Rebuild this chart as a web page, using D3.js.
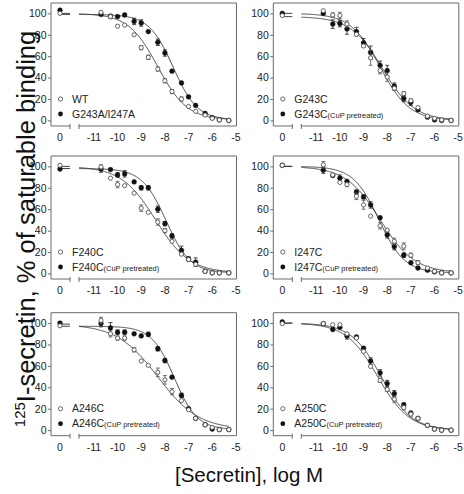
<!DOCTYPE html>
<html><head><meta charset="utf-8">
<script src="https://cdn.jsdelivr.net/npm/d3@7"></script>
<style>body{margin:0;background:#fff;} svg{display:block;font-family:"Liberation Sans",Arial,sans-serif;}</style>
</head><body>
<script>
// ---- data ----
const logConc = [-10.7,-10.3,-10,-9.7,-9.3,-9,-8.7,-8.3,-8,-7.7,-7.3,-7,-6.7,-6.3,-6,-5.7,-5.3];
const xTickLabels = ["-11","-10","-9","-8","-7","-6","-5"];
const xTickValues = [-11,-10,-9,-8,-7,-6,-5];
const yTickValues = [0,20,40,60,80,100];
const panelOpenNames = ["WT","G243C","F240C","I247C","A246C","A250C"];
const panelFilledNames = ["G243A/I247A","G243C","F240C","I247C","A246C","A250C"];
const panelFilledSuffix = ["","(CuP pretreated)","(CuP pretreated)","(CuP pretreated)","(CuP pretreated)","(CuP pretreated)"];
// binding at zero secretin (open, filled)
const zeroOpen = [100, 98, 101, 101, 97.5, 99.5];
const zeroFilled = [103, 100, 97.5, 101, 100, 101];
const openValues = [
  [101,97,88,89,80,68,59,48,37,27,20,13,8.5,5,2,0.5,0],
  [102.5,98.5,98,90,80.5,69.5,58.5,46.5,40.5,30,25,18.5,12,4,2,0.5,0],
  [99.5,89,83,82,75,61,57,48,40,30,18,13,8.5,2,0.5,0.5,0.5],
  [101.5,92,85,83,72,64,53.5,44.5,40.5,30,25.5,17,10,5,2,0.5,0.5],
  [102.5,90,86,86,75,64.5,60.5,54,47,36,27.5,19,11,5,2.5,0.5,0.5],
  [99.5,98.5,98.5,90,86,73.5,59.5,46.5,38,29,21,15,11,4.5,1,0,0]
];
const filledValues = [
  [99,97.5,97,98.5,92.5,91,83,73,63,46,35,22,14,6.5,2.5,0.5,0],
  [100,90,90.5,85.5,83,72.5,63.5,51.5,46.5,32,20.5,17,10,3,0.5,0,0],
  [97.5,97,92,93,85.5,80,80,60,46.5,35,21.5,13.5,10.5,2,0.5,0.5,0.5],
  [96.5,91.5,89,86,76,71.5,64,52,36,25,17,10,5,3,1.5,0.5,0.5],
  [99.5,95.5,91.5,91.5,90,88,89.5,76,65,49.5,32.5,20,11,5,1,0.5,0.5],
  [99.5,94,96,88,87,76.5,64.5,53.5,43.5,34,23.5,16,11,4.5,1,0,0]
];
const openErrors = [
  [0,2,0,0,0,2,2,2,2,2,2,0,0,0,0,0,0],
  [0,2,3,3,0,0,7,3,4,2,2,0,0,0,0,0,0],
  [2,0,3,0,0,3,0,3,2,0,0,0,0,0,0,0,0],
  [3,0,0,2,3,4,0,3,0,3,3,2,2,0,0,0,0],
  [3,3,2,2,2,0,0,4,4,3,0,0,0,0,0,0,0],
  [0,0,0,0,0,0,0,2,2,3,2,2,0,0,0,0,0]
];
const filledErrors = [
  [0,0,0,0,3,3,0,3,3,0,0,0,0,0,0,0,0],
  [0,4,3,5,4,4,6,4,5,3,3,3,0,0,0,0,0],
  [3,0,2,3,0,2,2,3,2,2,4,2,4,0,0,0,0],
  [3,0,3,0,2,2,3,0,3,3,2,0,0,0,0,0,0],
  [3,5,2,2,0,0,2,2,2,0,2,0,0,0,0,0,0],
  [0,0,0,3,0,0,3,3,3,3,2,0,0,0,0,0,0]
];
// one-site fit parameters: [top, bottom, logIC50, hill]
const openFit = [[100,0.5,-8.3,0.7],[100,0,-8.3,0.7],[100,0.5,-8.4,0.6],[100,0.5,-8.3,0.6],[99,0.5,-8.3,0.5],[100,0,-8.4,0.65]];
const filledFit = [[99,0.5,-7.65,0.85],[97,0,-8.2,0.65],[98,0.5,-7.95,0.85],[100,0.5,-8.35,0.8],[97,0.5,-7.6,0.9],[100,0,-8.25,0.68]];

// ---- layout ----
const W = 464, H = 494;
const colX = [51, 273.3];
const rowY = [3, 156, 312.7];
const pw = 185.5, ph = 123;
const svg = d3.select("body").append("svg").attr("width", W).attr("height", H);

const xMain = d3.scaleLinear().domain([-11, -5]).range([42.9, 184.9]);
const xZero = d3.scaleLinear().domain([-1, 1]).range([0, 18]);
const breakL = 19, breakR = 28;
const curveStart = xMain.invert(breakR);
const y = d3.scaleLinear().domain([-5.2, 109.7]).range([ph, 0]);

function fitFn(p) { return x => p[1] + (p[0]-p[1]) / (1 + Math.pow(10, (x - p[2]) * p[3])); }

const frameCol = "#6a6a6a", textCol = "#222", lineCol = "#333";

for (let i = 0; i < 6; i++) {
  const col = i % 2, row = Math.floor(i / 2);
  const g = svg.append("g").attr("transform", `translate(${colX[col]},${rowY[row]})`);
  // frame: top, right, left
  g.append("path").attr("d", `M0,${ph}V0H${pw}V${ph}`).attr("fill","none").attr("stroke",frameCol).attr("stroke-width",1);
  // bottom axis with break
  g.append("line").attr("x1",0).attr("x2",breakL).attr("y1",ph).attr("y2",ph).attr("stroke",frameCol);
  g.append("line").attr("x1",breakR).attr("x2",pw).attr("y1",ph).attr("y2",ph).attr("stroke",frameCol);
  [breakL, breakR].forEach(bx => g.append("line").attr("x1",bx).attr("x2",bx).attr("y1",ph-2).attr("y2",ph+3).attr("stroke",frameCol));
  // y axis
  const ya = g.append("g").call(d3.axisLeft(y).tickValues(yTickValues).tickSize(3).tickPadding(1.5));
  ya.select(".domain").remove();
  ya.selectAll("line").attr("stroke", frameCol);
  ya.selectAll("text").attr("fill", textCol).style("font-size","10.5px").style("font-family","'Liberation Sans',Arial,sans-serif");
  // x labels
  const xl = g.append("g").attr("transform",`translate(0,${ph})`);
  xl.append("text").attr("x", xZero(0)).attr("y", 11.5).attr("dy","0.35em").attr("text-anchor","middle").attr("fill",textCol).style("font-size","10.5px").text("0");
  xl.selectAll("text.t").data(xTickValues).enter().append("text").attr("class","t")
    .attr("x", d => xMain(d)).attr("y", 11.5).attr("dy","0.35em").attr("text-anchor","middle").attr("fill",textCol).style("font-size","10.5px")
    .text((d,k) => xTickLabels[k]);

  // fitted curves
  const series = [
    {vals: openValues[i], errs: openErrors[i], zero: zeroOpen[i], fit: openFit[i], open: true},
    {vals: filledValues[i], errs: filledErrors[i], zero: zeroFilled[i], fit: filledFit[i], open: false}
  ];
  series.forEach(s => {
    const f = fitFn(s.fit);
    const pts = d3.range(curveStart, -5.29, 0.02).map(x => [x, f(x)]);
    g.append("path").datum(pts).attr("fill","none").attr("stroke",lineCol).attr("stroke-width",0.9)
      .attr("d", d3.line().x(d => xMain(d[0])).y(d => y(d[1])));
    g.append("line").attr("x1", xZero(0)).attr("x2", breakL).attr("y1", y(s.fit[0])).attr("y2", y(s.fit[0]))
      .attr("stroke",lineCol).attr("stroke-width",0.9);
  });
  // error bars and points (filled first, open on top)
  [series[1], series[0]].forEach(s => {
    const data = logConc.map((c,k) => ({x: xMain(c), v: s.vals[k], e: s.errs[k]}));
    data.push({x: xZero(0), v: s.zero, e: 0});
    data.filter(d => d.e > 0).forEach(d => {
      const ge = g.append("g").attr("stroke", s.open ? "#555" : "#222").attr("stroke-width",0.8);
      ge.append("line").attr("x1",d.x).attr("x2",d.x).attr("y1",y(d.v-d.e)).attr("y2",y(d.v+d.e));
      ge.append("line").attr("x1",d.x-2).attr("x2",d.x+2).attr("y1",y(d.v-d.e)).attr("y2",y(d.v-d.e));
      ge.append("line").attr("x1",d.x-2).attr("x2",d.x+2).attr("y1",y(d.v+d.e)).attr("y2",y(d.v+d.e));
    });
    g.selectAll(null).data(data).enter().append("circle")
      .attr("cx", d => d.x).attr("cy", d => y(d.v)).attr("r", s.open ? 2.1 : 2.4)
      .attr("fill", s.open ? "#fff" : "#111").attr("stroke", s.open ? "#555" : "#111").attr("stroke-width", s.open ? 0.9 : 0.5);
  });
  // legend
  const lg = g.append("g");
  const ly = [96, 111];
  lg.append("circle").attr("cx", 9.5).attr("cy", ly[0]).attr("r", 2.1).attr("fill","#fff").attr("stroke","#555").attr("stroke-width",0.9);
  lg.append("circle").attr("cx", 9.5).attr("cy", ly[1]).attr("r", 2.4).attr("fill","#111");
  lg.append("text").attr("x", 21).attr("y", ly[0]).attr("dy","0.36em").attr("fill",textCol).style("font-size","10.5px").text(panelOpenNames[i]);
  const t2 = lg.append("text").attr("x", 21).attr("y", ly[1]).attr("dy","0.36em").attr("fill",textCol).style("font-size","10.5px");
  t2.append("tspan").text(panelFilledNames[i]);
  if (panelFilledSuffix[i]) t2.append("tspan").style("font-size","7.5px").text(panelFilledSuffix[i]);
}

// axis titles
svg.append("text").attr("x", 249).attr("y", 482).attr("text-anchor","middle").attr("fill","#111")
  .style("font-size","20.5px").text("[Secretin], log M");
const yt = svg.append("text").attr("transform","translate(35,229) rotate(-90)").attr("text-anchor","middle").attr("fill","#111").style("font-size","25.5px");
yt.append("tspan").style("font-size","15px").attr("dy","-10").text("125");
yt.append("tspan").attr("dy","10").text("I-secretin, % of saturable binding");
</script>
</body></html>
